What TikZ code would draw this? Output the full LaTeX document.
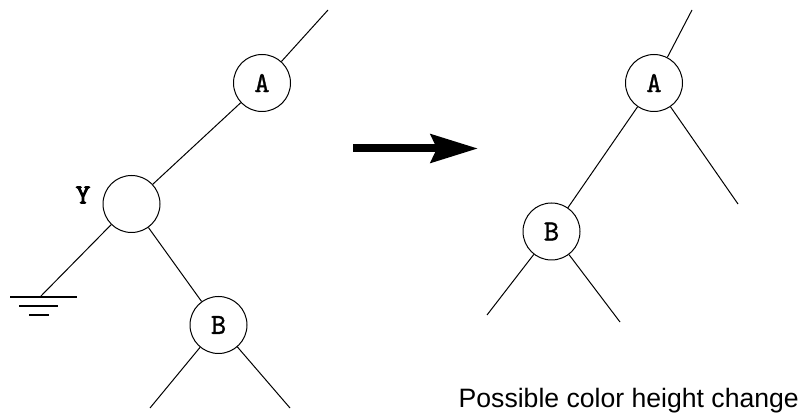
\documentclass[tikz,border=0pt]{standalone}
\usepackage{fontspec}
\setmainfont{Liberation Sans}
\newfontfamily\tlabfont{lmmono10-regular.otf}[FakeBold=1]
\newfontfamily\ylabfont{lmmono10-regular.otf}[FakeBold=3]
\usetikzlibrary{arrows.meta}
\begin{document}
\begin{tikzpicture}[x=1pt,y=-1pt,
  tnode/.style={draw,circle,line width=1pt,minimum size=57pt,inner sep=0pt,
    font=\tlabfont\fontsize{29}{29}\selectfont},
  edge/.style={line width=1pt},
  gline/.style={line width=1.4pt}]
\useasboundingbox (0,0) rectangle (801,419);
% left tree
\node[tnode] (A1) at (262,83) {A};
\node[tnode] (Y) at (131.5,204) {};
\node[font=\ylabfont\fontsize{28}{28}\selectfont] (ylab) at (83,195) {Y};
\node[tnode] (B1) at (218.5,325) {B};
\coordinate (t1) at (328,10);
\coordinate (g) at (40,297);
\coordinate (b1l) at (150,408);
\coordinate (b1r) at (290,408);
\draw[edge] (A1) -- (t1);
\draw[edge] (A1) -- (Y);
\draw[edge] (Y) -- (g);
\draw[edge] (Y) -- (B1);
\draw[edge] (B1) -- (b1l);
\draw[edge] (B1) -- (b1r);
% ground symbol
\draw[gline] (10,297) -- (77,297);
\draw[gline] (19,306) -- (58,306);
\draw[gline] (29,315) -- (49,315);
% arrow
\coordinate (ar1) at (353,148.5);
\coordinate (ar2) at (478,148.5);
\draw[line width=8pt,-{Stealth[length=47pt,width=28pt,inset=6pt]}] (ar1) -- (ar2);
% right tree
\node[tnode] (A2) at (654,83) {A};
\node[tnode] (B2) at (551.5,231.5) {B};
\coordinate (t2) at (692,10);
\coordinate (a2r) at (738,204);
\coordinate (b2l) at (487,315);
\coordinate (b2r) at (620,322);
\draw[edge] (A2) -- (t2);
\draw[edge] (A2) -- (B2);
\draw[edge] (A2) -- (a2r);
\draw[edge] (B2) -- (b2l);
\draw[edge] (B2) -- (b2r);
% caption
\node[anchor=base east,inner sep=0pt,font=\fontsize{26.6}{26.6}\selectfont] (cap) at (799,408) {Possible color height change};
\end{tikzpicture}
\end{document}
